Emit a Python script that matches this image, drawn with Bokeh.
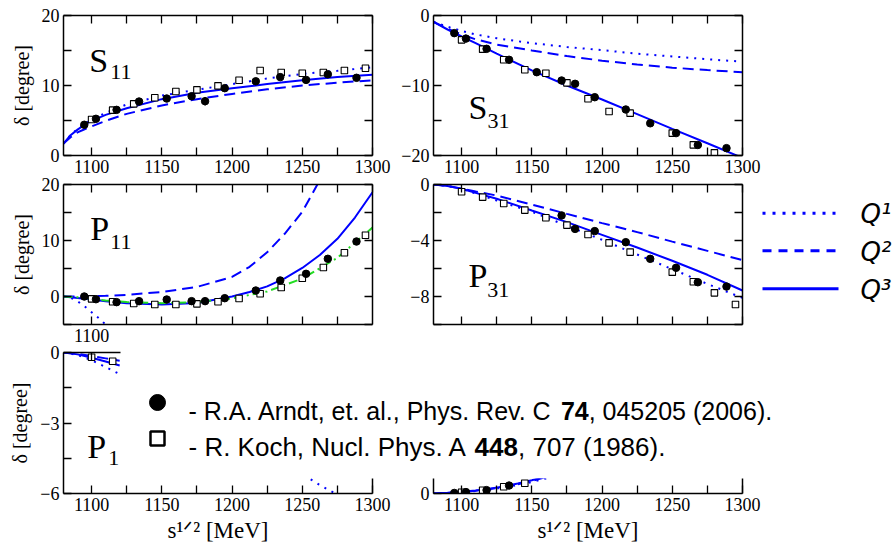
from bokeh.plotting import figure
from bokeh.models import LinearAxis, FixedTicker, Range1d, Label
from bokeh.layouts import row, column
from bokeh.embed import file_html
from bokeh.resources import INLINE

# ---------------- data ----------------
X_RANGE = (1080, 1300)
X_TICKS = [1100, 1150, 1200, 1250, 1300]
X_MINOR = [1125, 1175, 1225, 1275]

ARNDT_E = [1094.8, 1103.1, 1117.8, 1133.8, 1153.5, 1171.2, 1180.8, 1194.8, 1216.9, 1234.3, 1252.7, 1268.2, 1288.6]
KOCH_E = [1100, 1115, 1130, 1145, 1160, 1175, 1190, 1205, 1220, 1235, 1250, 1265, 1280, 1295]

# S11
S11_x = [1080, 1085, 1090, 1095, 1100, 1110, 1125, 1150, 1175, 1200, 1225, 1250, 1275, 1300]
S11_q1 = [1.7, 2.9, 3.8, 4.5, 5.1, 6.1, 7.3, 8.55, 9.4, 10.2, 11.0, 11.65, 12.1, 12.6]
S11_q2 = [1.7, 2.6, 3.3, 3.75, 4.15, 4.95, 5.95, 7.15, 8.05, 8.8, 9.45, 10.0, 10.4, 10.75]
S11_q3 = [1.7, 2.9, 3.7, 4.4, 4.95, 5.8, 6.75, 8.05, 8.95, 9.6, 10.2, 10.75, 11.2, 11.55]
S11_arndt = [4.39, 5.24, 6.52, 7.71, 8.14, 8.47, 7.76, 9.62, 10.6, 11.2, 10.8, 11.6, 11.1]
S11_arndt_err = [0, 0, 0, 0, 0, 0, 0.6, 0, 0, 0, 0, 0, 0]
S11_koch = [5.14, 6.48, 7.38, 8.24, 9.14, 9.38, 9.95, 10.76, 12.14, 11.86, 11.76, 11.86, 12.14, 12.47]

# S31
S31_x = [1080, 1090, 1100, 1110, 1125, 1150, 1175, 1200, 1225, 1250, 1275, 1300]
S31_q1 = [-0.9, -1.6, -2.2, -2.7, -3.25, -3.95, -4.5, -4.95, -5.45, -5.85, -6.25, -6.6]
S31_q2 = [-0.9, -1.9, -2.7, -3.4, -4.15, -5.0, -5.8, -6.45, -7.0, -7.45, -7.8, -8.1]
S31_q3 = [-0.9, -2.0, -3.0, -3.95, -5.45, -7.85, -10.0, -12.0, -14.1, -16.2, -18.25, -20.35]
S31_arndt = [-2.52, -3.3, -4.76, -6.33, -8.1, -9.29, -9.76, -11.67, -13.43, -15.4, -16.8, -18.5, -18.95]
S31_koch_e = [1100, 1115, 1130, 1145, 1160, 1175, 1190, 1205, 1220, 1250, 1265, 1280]
S31_koch = [-3.48, -4.81, -6.33, -7.76, -8.24, -9.62, -11.9, -13.71, -13.95, -16.8, -18.48, -19.62]

# P11
P11_x = [1080, 1090, 1100, 1110, 1125, 1150, 1175, 1200, 1212.5, 1225, 1237.5, 1250, 1262.5, 1275, 1287.5, 1300]
P11_q2 = [0.0, 0.0, 0.05, 0.12, 0.3, 0.8, 1.7, 3.5, 5.3, 7.9, 11.2, 15.1, 20.8, 27.0, 34.0, 42.0]
P11_q3 = [0.0, -0.25, -0.55, -0.85, -1.2, -1.43, -1.15, 0.0, 0.8, 1.8, 3.25, 5.1, 7.4, 10.3, 14.1, 18.6]
P11_q1_x = [1080, 1085, 1090, 1095, 1100, 1105, 1110, 1115]
P11_q1 = [0.0, -0.2, -0.85, -1.75, -2.8, -3.85, -5.0, -6.3]
P11_fit_x = [1080, 1090, 1100, 1110, 1125, 1150, 1175, 1200, 1225, 1250, 1275, 1300]
P11_fit = [0.0, -0.15, -0.4, -0.7, -1.0, -1.2, -1.0, -0.35, 0.9, 3.2, 6.9, 12.3]
P11_arndt = [0.0, -0.48, -1.01, -0.83, -0.54, -0.83, -0.83, -0.3, 1.07, 2.86, 4.05, 6.73, 9.82]
P11_koch = [-0.42, -0.95, -1.25, -1.43, -1.43, -1.31, -0.95, -0.36, 0.48, 1.61, 3.27, 5.18, 7.8, 10.95]

# P31
P31_x = [1080, 1090, 1100, 1110, 1125, 1150, 1175, 1200, 1225, 1250, 1275, 1300]
P31_q1 = [0.0, -0.1, -0.3, -0.65, -1.14, -1.95, -2.95, -3.95, -5.0, -6.05, -7.1, -8.1]
P31_q2 = [0.0, -0.1, -0.3, -0.5, -0.79, -1.43, -2.1, -2.76, -3.4, -4.08, -4.74, -5.4]
P31_q3 = [0.0, -0.1, -0.3, -0.6, -1.02, -1.86, -2.69, -3.6, -4.5, -5.45, -6.45, -7.57]
P31_arndt_e = [1171.2, 1180.8, 1194.8, 1216.9, 1234.3, 1252.7, 1268.2, 1288.6]
P31_arndt = [-2.21, -3.17, -3.33, -4.12, -5.31, -5.95, -6.98, -7.29]
P31_koch_e = [1100, 1115, 1130, 1145, 1160, 1175, 1190, 1205, 1220, 1250, 1265, 1280, 1295]
P31_koch = [-0.52, -0.9, -1.36, -1.83, -2.38, -2.9, -3.57, -4.17, -4.83, -6.26, -6.95, -7.74, -8.57]

# P13 (only the parts not hidden by the reference box)
P13_x = [1080, 1090, 1100, 1110, 1120]
P13_q1 = [0.0, -0.1, -0.33, -0.62, -0.92]
P13_q2 = [0.0, -0.05, -0.15, -0.25, -0.35]
P13_q3 = [0.0, -0.08, -0.22, -0.38, -0.55]
P13_q1_tail_x = [1256, 1262, 1268, 1275]
P13_q1_tail = [-5.4, -5.62, -5.82, -6.05]
P13_koch_e = [1100, 1115]
P13_koch = [-0.2, -0.37]

# P33 (only the parts not hidden by the reference box)
P33_x = [1080, 1090, 1100, 1110, 1120, 1130, 1140, 1150, 1160, 1170]
P33_q1 = [0.0, 0.6, 1.5, 2.7, 4.3, 6.4, 9.0, 12.2, 16.0, 20.0]
P33_q2 = [0.0, 0.7, 1.7, 3.0, 4.7, 7.0, 9.9, 13.4, 17.6, 22.0]
P33_q3 = [0.0, 0.8, 1.9, 3.3, 5.1, 7.6, 10.6, 14.2, 18.5, 23.0]
P33_arndt_e = [1094.8, 1103.1, 1117.8, 1133.8]
P33_arndt = [0.6, 1.5, 3.6, 8.5]
P33_koch_e = [1100, 1115, 1130, 1145]
P33_koch = [1.4, 3.5, 7.2, 11.0]

LEGEND_LABELS = ["Q\u00b9", "Q\u00b2", "Q\u00b3"]
REF1 = ["- R.A. Arndt, et. al., Phys. Rev. C", "74", ", 045205 (2006)."]
REF2 = ["- R. Koch, Nucl. Phys. A", "448", ", 707 (1986)."]
Y_LABEL = "\u03b4 [degree]"
X_LABEL = "s\u00b9\u141f\u00b2 [MeV]"

# ---------------- style ----------------
SERIF = "Liberation Serif"
SANS = "Liberation Sans"
BLUE = "#0000ff"
GREEN = "#22dd22"
DOT = "2 6"
DASH = "11 6"
DASHDOT = "9 4 2 4"
KEY_DASHES = ["3 7", "9 7", "solid"]

# advance widths of Liberation Sans (per 1000 em) used to butt the text pieces together
ADV = {' ': 278, '-': 333, '.': 278, ',': 278, '(': 333, ')': 333, 'A': 667, 'C': 722, 'K': 667,
       'N': 722, 'P': 667, 'R': 722, 'a': 556, 'c': 500, 'd': 556, 'e': 556, 'h': 556, 'l': 222,
       'n': 556, 'o': 556, 'r': 333, 's': 500, 't': 278, 'u': 556, 'v': 500, 'y': 500}


def text_w(s, size):
    return sum(ADV.get(ch, 556) for ch in s) * size / 1000.0


def style_axis(ax, ticks, minor, bounds=None):
    ax.ticker = FixedTicker(ticks=ticks, minor_ticks=minor)
    ax.axis_line_color = "black"
    ax.axis_line_width = 1.5
    ax.major_tick_in = 8
    ax.major_tick_out = 0
    ax.minor_tick_in = 8
    ax.minor_tick_out = 0
    ax.major_tick_line_width = 1.3
    ax.minor_tick_line_width = 1.3
    ax.major_tick_line_color = "black"
    ax.minor_tick_line_color = "black"
    ax.major_label_text_font = SERIF
    ax.major_label_text_color = "black"
    ax.major_label_text_font_size = "18px"
    ax.major_label_standoff = 4
    ax.axis_label_text_font = SERIF
    ax.axis_label_text_font_style = "normal"
    ax.axis_label_text_color = "black"
    if bounds is not None:
        ax.bounds = bounds


def bare(w, h, xr, yr):
    p = figure(x_range=Range1d(*xr), y_range=Range1d(*yr), width=w, height=h,
               min_border=0, x_axis_location=None, y_axis_location=None,
               output_backend="svg", toolbar_location=None)
    p.frame_align = False
    p.grid.visible = False
    p.outline_line_color = None
    p.border_fill_color = None
    p.background_fill_color = None
    return p


def panel(y_rng, w, h, bl, br, bt, bb, xt, xm, yt, ym, tm=None, rm=None,
          top=True, top_bounds=None, right_bounds=None, left_bounds=None):
    p = figure(x_range=Range1d(*X_RANGE), y_range=Range1d(*y_rng), width=w, height=h,
               min_border_left=bl, min_border_right=br, min_border_top=bt, min_border_bottom=bb,
               x_axis_location=None, y_axis_location=None,
               output_backend="svg", toolbar_location=None)
    p.frame_align = False
    p.grid.visible = False
    p.outline_line_color = None
    p.border_fill_color = None
    axes = {}
    axes["bottom"] = LinearAxis()
    style_axis(axes["bottom"], xt, xm)
    p.add_layout(axes["bottom"], "below")
    axes["left"] = LinearAxis()
    style_axis(axes["left"], yt, ym, bounds=left_bounds)
    p.add_layout(axes["left"], "left")
    if top:
        axes["top"] = LinearAxis()
        style_axis(axes["top"], [], tm if tm is not None else X_TICKS + X_MINOR, bounds=top_bounds)
        p.add_layout(axes["top"], "above")
    axes["right"] = LinearAxis()
    style_axis(axes["right"], [], rm if rm is not None else yt + ym, bounds=right_bounds)
    p.add_layout(axes["right"], "right")
    return p, axes


def curves(p, x, q1=None, q2=None, q3=None, x1=None):
    if q1 is not None:
        p.line(x1 if x1 is not None else x, q1, line_color=BLUE, line_width=2, line_dash=DOT)
    if q2 is not None:
        p.line(x, q2, line_color=BLUE, line_width=2, line_dash=DASH)
    if q3 is not None:
        p.line(x, q3, line_color=BLUE, line_width=2)


def points(p, ae, av, ke, kv):
    if ke:
        p.scatter(ke, kv, marker="square", size=6.5, fill_color="white", line_color="black", line_width=1.1)
    if ae:
        p.scatter(ae, av, marker="circle", size=7.5, fill_color="black", line_color="black")


def name(p, big, small, xb, yb, xs, ys):
    p.add_layout(Label(x=xb, y=yb, text=big, text_font=SERIF, text_font_size="34px",
                       text_baseline="alphabetic", text_color="black"))
    p.add_layout(Label(x=xs, y=ys, text=small, text_font=SERIF, text_font_size="22px",
                       text_baseline="alphabetic", text_color="black"))


def ylab(ax):
    ax.axis_label = Y_LABEL
    ax.axis_label_text_font_size = "20px"
    ax.axis_label_standoff = 6


def xlab(ax):
    ax.axis_label = X_LABEL
    ax.axis_label_text_font_size = "23px"
    ax.axis_label_standoff = 4


# ---------------- row 1 ----------------
s11, a = panel((0, 20), 396, 179, 63, 24, 15, 24, X_TICKS, X_MINOR, [0, 10, 20], [5, 15])
ylab(a["left"])
curves(s11, S11_x, S11_q1, S11_q2, S11_q3)
s11.segment(ARNDT_E, [S11_arndt[i] - S11_arndt_err[i] for i in range(len(ARNDT_E))],
            ARNDT_E, [S11_arndt[i] + S11_arndt_err[i] for i in range(len(ARNDT_E))],
            line_color="black", line_width=1.2)
points(s11, ARNDT_E, S11_arndt, KOCH_E, S11_koch)
name(s11, "S", "11", 1098.3, 13.57, 1113.3, 11.9)

s31, a = panel((-20, 0), 500, 179, 37, 154, 15, 24, X_TICKS, X_MINOR, [-20, -10, 0], [-15, -5])
curves(s31, S31_x, S31_q1, S31_q2, S31_q3)
points(s31, ARNDT_E, S31_arndt, S31_koch_e, S31_koch)
name(s31, "S", "31", 1104.9, -13.1, 1118.4, -15.0)

# ---------------- row 2 ----------------
p11, a = panel((-5, 20), 396, 179, 63, 24, 15, 24, [1100], [1125, 1150, 1175, 1200, 1225, 1250, 1275],
               [0, 10, 20], [-5, 5, 15])
ylab(a["left"])
curves(p11, P11_x, P11_q1, P11_q2, P11_q3, x1=P11_q1_x)
p11.line(P11_fit_x, P11_fit, line_color=GREEN, line_width=2, line_dash=DASHDOT)
points(p11, ARNDT_E, P11_arndt, KOCH_E, P11_koch)
name(p11, "P", "11", 1099.0, 12.2, 1113.3, 9.7)

p31, a = panel((-10, 0), 500, 179, 37, 154, 15, 24, [], X_TICKS + X_MINOR, [-8, -4, 0], [-10, -6, -2])
curves(p31, P31_x, P31_q1, P31_q2, P31_q3)
points(p31, P31_arndt_e, P31_arndt, P31_koch_e, P31_koch)
name(p31, "P", "31", 1104.9, -6.5, 1118.3, -7.52)

# transparent layer right of P31 holding the key of the three curves (page pixel coordinates)
pq = bare(150, 179, (746, 896), (348, 169))
pq.margin = (0, 0, 0, -150)
for i, ky in enumerate([212.7, 250.3, 288.3]):
    pq.line([762, 838], [ky, ky], line_color=BLUE, line_width=3, line_dash=KEY_DASHES[i])
    pq.add_layout(Label(x=860, y=ky + 1, text=LEGEND_LABELS[i], text_font="DejaVu Sans",
                        text_font_style="italic", text_font_size="26px",
                        text_baseline="middle", text_color="black"))

# ---------------- row 3 ----------------
p13, a = panel((-6, 0), 896, 214, 63, 524, 14, 59, X_TICKS, X_MINOR, [-6, -3, 0], [-4.5, -1.5],
               tm=[1100], top_bounds=(1080, 1120.4), rm=[], right_bounds=(-6, -5.35))
ylab(a["left"])
xlab(a["bottom"])
curves(p13, P13_x, P13_q1, P13_q2, P13_q3)
p13.line(P13_q1_tail_x, P13_q1_tail, line_color=BLUE, line_width=2, line_dash=DOT)
points(p13, [], [], P13_koch_e, P13_koch)
name(p13, "P", "1", 1096.9, -3.99, 1111.9, -4.5)

p33, a = panel((0, 16), 500, 214, 37, 154, 140, 59, X_TICKS, X_MINOR, [0], [], top=False,
               rm=[], left_bounds=(0, 16), right_bounds=(0, 16))
p33.background_fill_color = None
xlab(a["bottom"])
curves(p33, P33_x, P33_q1, P33_q2, P33_q3)
points(p33, P33_arndt_e, P33_arndt, P33_koch_e, P33_koch)
p33.margin = (0, 0, 0, -500)

# transparent layer on top of the bottom row carrying the key of the data sets
# (its coordinates are the page pixels of that row)
pt = bare(896, 214, (0, 896), (552, 338))
pt.margin = (0, 0, 0, -896)
pt.scatter([157], [402], marker="circle", size=16, fill_color="black", line_color="black")
pt.scatter([157], [438], marker="square", size=14, fill_color="white", line_color="black", line_width=2.5)
for parts, base, size in [(REF1, 410, 25), (REF2, 446, 26)]:
    x = 188.0
    for k, txt in enumerate(parts):
        pt.add_layout(Label(x=x, y=base, text=txt, text_font=SANS, text_font_size="%dpx" % size,
                            text_font_style="bold" if k == 1 else "normal",
                            text_baseline="alphabetic", text_color="black"))
        x += text_w(txt + (" " if k == 0 else ""), size)

r1 = row(s11, s31)
r2 = row(p11, p31, pq)
r2.margin = (-10, 0, 0, 0)
r3 = row(p13, p33, pt)
r3.margin = (-10, 0, 0, 0)
layout = column(r1, r2, r3)
open("out.html", "w").write(file_html(layout, INLINE))
